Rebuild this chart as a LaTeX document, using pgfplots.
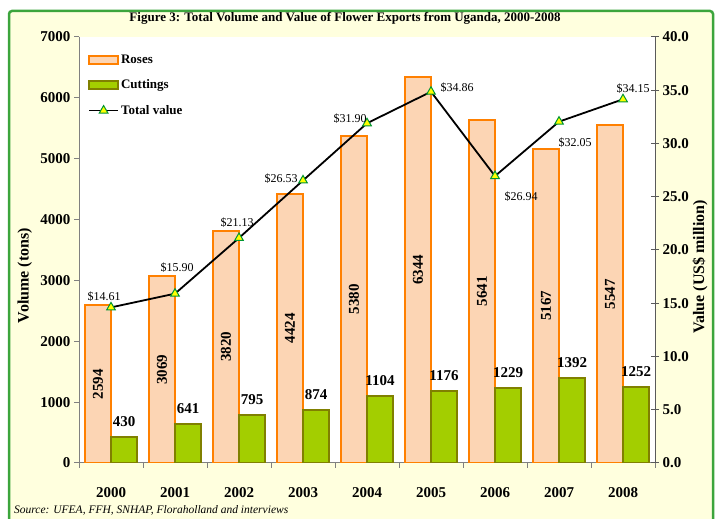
\documentclass[border=0pt]{standalone}
\usepackage{pgfplots}
\usepackage{pgfplotstable}
\pgfplotsset{compat=1.18}
\usepackage{fontspec}
\setmainfont{Liberation Serif}
\definecolor{cream}{RGB}{255,255,222}
\definecolor{framegreen}{RGB}{60,165,60}
\definecolor{rosefill}{RGB}{252,213,180}
\definecolor{roseedge}{RGB}{255,128,0}
\definecolor{cutfill}{RGB}{163,206,0}
\definecolor{cutedge}{RGB}{128,128,0}
\definecolor{axgray}{RGB}{128,128,128}
\definecolor{markyellow}{RGB}{255,255,0}
\definecolor{markgreen}{RGB}{0,150,50}

\pgfplotsset{/pgf/number format/assume math mode=true, /pgf/number format/1000 sep={},
  mybarlegend/.style={legend image code/.code={\draw[##1] (0bp,-4bp) rectangle (29bp,4bp);}},
  mylinelegend/.style={legend image code/.code={\draw[mark repeat=2,mark phase=2,##1] plot coordinates {(0bp,0bp) (14.5bp,0bp) (29bp,0bp)};}},
}

\pgfplotstableread{
x roses cuttings
0 2594 430
1 3069 641
2 3820 795
3 4424 874
4 5380 1104
5 6344 1176
6 5641 1229
7 5167 1392
8 5547 1252
}\volume

\pgfplotstableread{
x value dx dy
0 14.61 -7 11
1 15.90 2 26
2 21.13 -2 15
3 26.53 -22 2
4 31.90 -17 5
5 34.86 26 4
6 26.94 26 -21
7 32.05 16 -21
8 34.15 10 11
}\valuetab

\begin{document}
\begin{tikzpicture}[x=1bp,y=1bp]
\useasboundingbox (0,0) rectangle (716,519);
\fill[cream] (9,0) rectangle (713,508);
\draw[framegreen, line width=2.5bp, rounded corners=3bp] (9,-5) -- (9,508) -- (713,508) -- (713,-5);
\node[font=\bfseries\fontsize{13bp}{15bp}\selectfont] at (345,501) {Figure 3: Total Volume and Value of Flower Exports from Uganda, 2000-2008};
\node[anchor=west, font=\itshape\fontsize{11.5bp}{13bp}\selectfont, inner sep=0pt] at (14,9) {Source: UFEA, FFH, SNHAP, Floraholland and interviews};

\begin{axis}[
  at={(79bp,56bp)}, anchor=south west,
  scale only axis, width=576bp, height=426bp,
  xmin=-0.5, xmax=8.5, ymin=0, ymax=7000,
  ybar=0pt, bar width=26bp,
  axis x line*=bottom, axis y line*=left,
  axis line style={axgray, line width=1bp},
  axis background/.style={fill=white},
  tick align=outside,
  major tick length=5bp, minor tick length=5bp,
  ytick={0,1000,...,7000},
  ytick style={axgray, line width=1bp},
  xtick={0,...,8},
  xticklabels={2000,2001,2002,2003,2004,2005,2006,2007,2008},
  major x tick style={draw=none},
  minor xtick={-0.5,0.5,...,8.5},
  minor x tick style={draw=axgray, line width=1bp},
  tick label style={font=\bfseries\fontsize{15bp}{17bp}\selectfont, black},
  xticklabel style={yshift=-16bp},
  ylabel={Volume (tons)},
  ylabel style={at={(axis description cs:-0.094,0.44)}, anchor=center, font=\bfseries\fontsize{16bp}{18bp}\selectfont},
]
\addplot[fill=rosefill, draw=roseedge, line width=2bp,
  point meta=rawy,
  visualization depends on={rawy \as \myRY},
  nodes near coords,
  every node near coord/.append style={anchor=center, yshift={-0.030429*\myRY*1.00375}, rotate=90,
    font=\bfseries\fontsize{15bp}{17bp}\selectfont, black}]
  table[x=x, y=roses]{\volume};
\addplot[fill=cutfill, draw=cutedge, line width=2bp,
  point meta=rawy,
  nodes near coords,
  every node near coord/.append style={anchor=south, yshift=6bp,
    font=\bfseries\fontsize{15bp}{17bp}\selectfont, black}]
  table[x=x, y=cuttings]{\volume};
\end{axis}

\begin{axis}[
  at={(79bp,56bp)}, anchor=south west,
  scale only axis, width=576bp, height=426bp,
  xmin=-0.5, xmax=8.5, ymin=0, ymax=40,
  axis x line=none, axis y line*=right,
  axis line style={axgray!70!black, line width=1bp},
  ytick={0,5,...,40},
  ytick style={axgray!70!black, line width=1bp},
  tick align=center, major tick length=8bp,
  yticklabel style={/pgf/number format/.cd, fixed, fixed zerofill, precision=1},
  tick label style={font=\bfseries\fontsize{15bp}{17bp}\selectfont, black},
  ylabel={Value (US\$ million)},
  ylabel style={at={(axis description cs:1.078,0.46)}, anchor=center, font=\bfseries\fontsize{16bp}{18bp}\selectfont},
  clip=false,
  legend style={at={(0.012,0.968)}, anchor=north west, draw=none, fill=white,
    font=\bfseries\fontsize{13bp}{15bp}\selectfont, row sep=11bp, inner xsep=2bp},
  legend cell align=left,
]
\addlegendimage{fill=rosefill, draw=roseedge, line width=2bp, mybarlegend}
\addlegendentry{Roses}
\addlegendimage{fill=cutfill, draw=cutedge, line width=2bp, mybarlegend}
\addlegendentry{Cuttings}
\addplot[black, line width=1.8bp, mark=triangle*, mark size=5bp,
  mark options={fill=markyellow, draw=markgreen, line width=1bp}, mylinelegend,
  point meta=\thisrow{value},
  visualization depends on={\thisrow{dx} \as \myDX},
  visualization depends on={\thisrow{dy} \as \myDY},
  nodes near coords={\$\pgfmathprintnumber[fixed,fixed zerofill,precision=2]{\pgfplotspointmeta}},
  every node near coord/.append style={anchor=center, xshift={\myDX*1.00375}, yshift={\myDY*1.00375},
    font=\fontsize{12bp}{14bp}\selectfont, black}]
  table[x=x, y=value]{\valuetab};
\addlegendentry{Total value}
\end{axis}
\end{tikzpicture}
\end{document}
